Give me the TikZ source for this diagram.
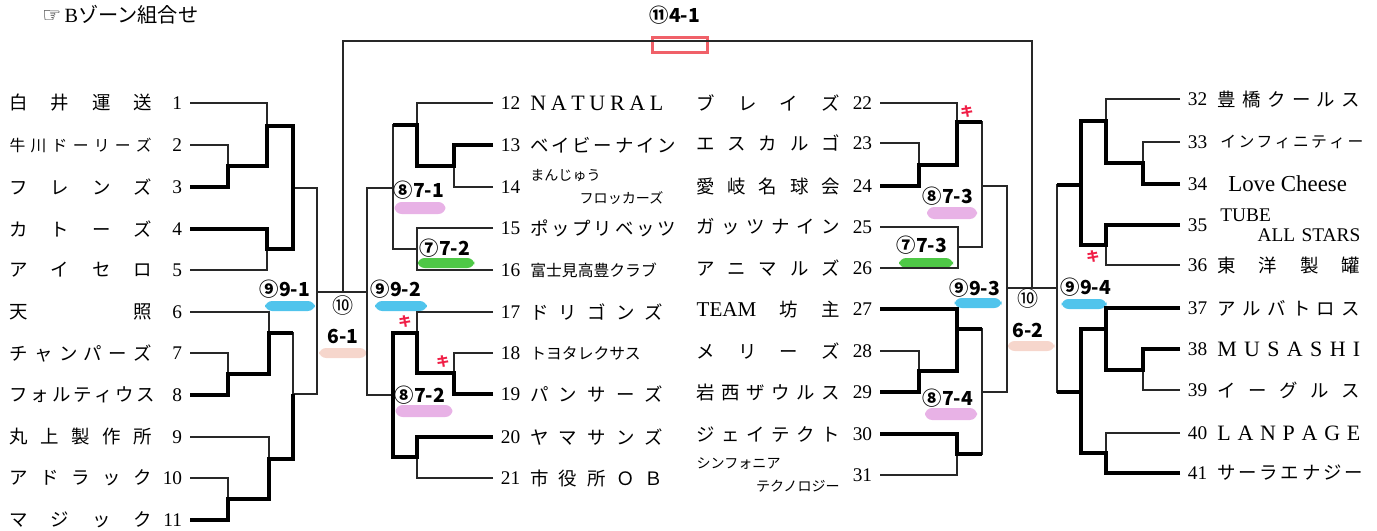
\documentclass[tikz,border=0pt]{standalone}
\usepackage{fontspec}
\setmainfont{Liberation Serif}
\newfontfamily\jp{Noto Sans CJK JP}
\newfontfamily\sym{DejaVu Sans}
\usetikzlibrary{positioning}
\definecolor{hlblue}{RGB}{80,196,236}
\definecolor{hlpink}{RGB}{232,178,230}
\definecolor{hlgreen}{RGB}{78,200,70}
\definecolor{hlsalmon}{RGB}{246,214,204}
\definecolor{kired}{RGB}{240,30,70}
\definecolor{boxred}{RGB}{240,96,104}
\definecolor{ink}{RGB}{40,40,40}
\newcommand\spread[2][2.84cm]{\makebox[#1][s]{#2}}

\begin{document}
\begin{tikzpicture}[x=0.02cm,y=-0.02cm,
    lose/.style={draw=ink,line width=0.7pt},
    win/.style={draw=black,line width=1.9pt},
    num/.style={inner ysep=0pt,inner xsep=4.3pt,font=\fontsize{11}{13}\selectfont},
    team/.style={inner sep=0pt,font=\jp\fontsize{10.5}{13}\selectfont},
    tsmall/.style={team,font=\jp\fontsize{9}{12}\selectfont},
    tmini/.style={team,align=left,font=\jp\fontsize{8}{13.5}\selectfont},
    latin/.style={team,font=\rmfamily\fontsize{12.5}{14}\selectfont},
    score/.style={inner sep=0pt,font=\jp\bfseries\fontsize{11}{13}\selectfont},
    circ/.style={inner sep=0pt,font=\jp\fontsize{12}{14}\selectfont},
    hl/.style={inner sep=0pt,minimum height=0.2cm,rounded corners=4pt},
    ki/.style={inner sep=0pt,text=kired,font=\jp\bfseries\fontsize{7.5}{9}\selectfont}]

    \useasboundingbox (0,0) rectangle (1377,531);

    \node[anchor=west,inner sep=0pt,font=\fontsize{11.5}{13}\selectfont] (title) at (42,15) {{\sym\fontsize{12}{13}\selectfont ☞}\,B{\jp ゾーン組合せ}};

    \node[hl,fill=hlblue,minimum width=1cm] (h91) at (290,306) {};
    \node[hl,fill=hlblue,minimum width=1.04cm] (h92) at (401,306) {};
    \node[hl,fill=hlsalmon,minimum width=0.96cm] (h61) at (343,353) {};
    \node[hl,fill=hlpink,minimum width=1.02cm,minimum height=0.24cm] (h71) at (420,208) {};
    \node[hl,fill=hlgreen,minimum width=1.14cm] (h72a) at (446,263) {};
    \node[hl,fill=hlpink,minimum width=1.14cm,minimum height=0.24cm] (h72b) at (424,411) {};
    \node[hl,fill=hlpink,minimum width=1cm,minimum height=0.24cm] (h73a) at (952,213) {};
    \node[hl,fill=hlgreen,minimum width=1.08cm] (h73b) at (926,263) {};
    \node[hl,fill=hlblue,minimum width=0.94cm] (h93) at (978,303) {};
    \node[hl,fill=hlpink,minimum width=1.04cm,minimum height=0.24cm] (h74) at (951,414) {};
    \node[hl,fill=hlsalmon,minimum width=0.94cm] (h62) at (1031,346) {};
    \node[hl,fill=hlblue,minimum width=0.9cm] (h94) at (1084,304) {};
    \node[draw=boxred,line width=1.6pt,minimum width=1.1cm,minimum height=0.3cm,inner sep=0pt] (b41) at (680,45) {};

    \node[num,anchor=east] (n1) at (190,103) {1};
    \node[team,left=0.76cm of n1.east] (w1) {\spread{白 井 運 送}};
    \node[num,anchor=east] (n2) at (190,145) {2};
    \node[tsmall,left=0.76cm of n2.east] (w2) {\spread{牛 川 ド ー リ ー ズ}};
    \node[num,anchor=east] (n3) at (190,187) {3};
    \node[team,left=0.76cm of n3.east] (w3) {\spread{フ レ ン ズ}};
    \node[num,anchor=east] (n4) at (190,229) {4};
    \node[team,left=0.76cm of n4.east] (w4) {\spread{カ ト ー ズ}};
    \node[num,anchor=east] (n5) at (190,270) {5};
    \node[team,left=0.76cm of n5.east] (w5) {\spread{ア イ セ ロ}};
    \node[num,anchor=east] (n6) at (190,312) {6};
    \node[team,left=0.76cm of n6.east] (w6) {\spread{天 照}};
    \node[num,anchor=east] (n7) at (190,353) {7};
    \node[team,left=0.76cm of n7.east] (w7) {\spread{チ ャ ン パ ー ズ}};
    \node[num,anchor=east] (n8) at (190,395) {8};
    \node[team,left=0.76cm of n8.east] (w8) {\spread{フ ォ ル テ ィ ウ ス}};
    \node[num,anchor=east] (n9) at (190,437) {9};
    \node[team,left=0.76cm of n9.east] (w9) {\spread{丸 上 製 作 所}};
    \node[num,anchor=east] (n10) at (190,478) {10};
    \node[team,left=0.76cm of n10.east] (w10) {\spread{ア ド ラ ッ ク}};
    \node[num,anchor=east] (n11) at (190,520) {11};
    \node[team,left=0.76cm of n11.east] (w11) {\spread{マ ジ ッ ク}};

    \node[num,anchor=west] (n12) at (493,103) {12};
    \node[latin,right=0.74cm of n12.west] (w12) {\spread[2.66cm]{N A T U R A L}};
    \node[num,anchor=west] (n13) at (493,145) {13};
    \node[team,right=0.74cm of n13.west] (w13) {\spread[2.66cm]{ベ イ ビ ー ナ イ ン}};
    \node[num,anchor=west] (n14) at (493,187) {14};
    \node[tmini,text width=2.66cm,right=0.74cm of n14.west] (w14) {まんじゅう\\\hspace*{\fill}フロッカーズ};
    \node[num,anchor=west] (n15) at (493,228) {15};
    \node[team,right=0.74cm of n15.west] (w15) {\spread[2.66cm]{ポ ッ プ リ ベ ッ ツ}};
    \node[num,anchor=west] (n16) at (493,270) {16};
    \node[tsmall,right=0.74cm of n16.west] (w16) {富士見高豊クラブ};
    \node[num,anchor=west] (n17) at (493,312) {17};
    \node[team,right=0.74cm of n17.west] (w17) {\spread[2.66cm]{ド リ ゴ ン ズ}};
    \node[num,anchor=west] (n18) at (493,353) {18};
    \node[tsmall,right=0.74cm of n18.west] (w18) {トヨタレクサス};
    \node[num,anchor=west] (n19) at (493,394) {19};
    \node[team,right=0.74cm of n19.west] (w19) {\spread[2.66cm]{パ ン サ ー ズ}};
    \node[num,anchor=west] (n20) at (493,437) {20};
    \node[team,right=0.74cm of n20.west] (w20) {\spread[2.66cm]{ヤ マ サ ン ズ}};
    \node[num,anchor=west] (n21) at (493,478) {21};
    \node[team,right=0.74cm of n21.west] (w21) {\spread[2.66cm]{市 役 所 Ｏ Ｂ}};

    \node[num,anchor=east] (n22) at (880,103) {22};
    \node[team,left=0.8cm of n22.east] (w22) {\spread[2.86cm]{ブ レ イ ズ}};
    \node[num,anchor=east] (n23) at (880,143) {23};
    \node[team,left=0.8cm of n23.east] (w23) {\spread[2.86cm]{エ ス カ ル ゴ}};
    \node[num,anchor=east] (n24) at (880,186) {24};
    \node[team,left=0.8cm of n24.east] (w24) {\spread[2.86cm]{愛 岐 名 球 会}};
    \node[num,anchor=east] (n25) at (880,227) {25};
    \node[team,left=0.8cm of n25.east] (w25) {\spread[2.86cm]{ガ ッ ツ ナ イ ン}};
    \node[num,anchor=east] (n26) at (880,268) {26};
    \node[team,left=0.8cm of n26.east] (w26) {\spread[2.86cm]{ア ニ マ ル ズ}};
    \node[num,anchor=east] (n27) at (880,309) {27};
    \node[team,left=0.8cm of n27.east] (w27) {\spread[2.86cm]{{\rmfamily\fontsize{12}{13}\selectfont TEAM} 坊 主}};
    \node[num,anchor=east] (n28) at (880,351) {28};
    \node[team,left=0.8cm of n28.east] (w28) {\spread[2.86cm]{メ リ ー ズ}};
    \node[num,anchor=east] (n29) at (880,392) {29};
    \node[team,left=0.8cm of n29.east] (w29) {\spread[2.86cm]{岩 西 ザ ウ ル ス}};
    \node[num,anchor=east] (n30) at (880,434) {30};
    \node[team,left=0.8cm of n30.east] (w30) {\spread[2.86cm]{ジ ェ イ テ ク ト}};
    \node[num,anchor=east] (n31) at (880,475) {31};
    \node[tmini,text width=2.86cm,left=0.8cm of n31.east] (w31) {シンフォニア\\\hspace*{\fill}テクノロジー};

    \node[num,anchor=west] (n32) at (1180,99) {32};
    \node[team,right=0.74cm of n32.west] (w32) {\spread[2.86cm]{豊 橋 ク ー ル ス}};
    \node[num,anchor=west] (n33) at (1180,142) {33};
    \node[tsmall,right=0.8cm of n33.west] (w33) {\spread[2.66cm]{イ ン フ ィ ニ テ ィ ー}};
    \node[num,anchor=west] (n34) at (1180,184) {34};
    \node[team,font=\rmfamily\fontsize{13}{15}\selectfont,right=0.96cm of n34.west] (w34) {Love Cheese};
    \node[num,anchor=west] (n35) at (1180,225) {35};
    \node[team,align=left,text width=2.8cm,font=\rmfamily\fontsize{11}{11.5}\selectfont,right=0.8cm of n35.west] (w35) {TUBE\\\hspace*{\fill}ALL STARS};
    \node[num,anchor=west] (n36) at (1180,265) {36};
    \node[team,right=0.74cm of n36.west] (w36) {\spread[2.86cm]{東 洋 製 罐}};
    \node[num,anchor=west] (n37) at (1180,308) {37};
    \node[team,right=0.74cm of n37.west] (w37) {\spread[2.86cm]{ア ル バ ト ロ ス}};
    \node[num,anchor=west] (n38) at (1180,349) {38};
    \node[latin,right=0.74cm of n38.west] (w38) {\spread[2.86cm]{M U S A S H I}};
    \node[num,anchor=west] (n39) at (1180,390) {39};
    \node[team,right=0.74cm of n39.west] (w39) {\spread[2.86cm]{イ ー グ ル ス}};
    \node[num,anchor=west] (n40) at (1180,433) {40};
    \node[latin,right=0.74cm of n40.west] (w40) {\spread[2.86cm]{L A N P A G E}};
    \node[num,anchor=west] (n41) at (1180,473) {41};
    \node[team,right=0.74cm of n41.west] (w41) {\spread[2.86cm]{サ ー ラ エ ナ ジ ー}};

    \coordinate (g23) at (228,166);
    \coordinate (g13) at (267,126);
    \coordinate (g45) at (267,249);
    \coordinate (g15) at (293,188);
    \coordinate (g78) at (228,374);
    \coordinate (g68) at (269,333);
    \coordinate (g1011) at (228,499);
    \coordinate (g911) at (269,459);
    \coordinate (g611) at (293,394);
    \coordinate (m91) at (317,292);
    \coordinate (m61) at (343,292);
    \coordinate (g1314) at (454,166);
    \coordinate (g1214) at (417,125);
    \coordinate (m72a) at (417,249);
    \coordinate (m71) at (393,188);
    \coordinate (g1819) at (454,373);
    \coordinate (g1719) at (417,333);
    \coordinate (g2021) at (417,457);
    \coordinate (m72b) at (393,395);
    \coordinate (m92) at (367,292);
    \coordinate (m41) at (680,41);
    \coordinate (g2324) at (919,165);
    \coordinate (g2224) at (957,122);
    \coordinate (m73b) at (958,247);
    \coordinate (m73a) at (982,186);
    \coordinate (g2829) at (919,371);
    \coordinate (g2729) at (957,329);
    \coordinate (g3031) at (957,454);
    \coordinate (m74) at (982,392);
    \coordinate (m93) at (1007,288);
    \coordinate (m62) at (1032,288);
    \coordinate (g3334) at (1143,163);
    \coordinate (g3234) at (1106,121);
    \coordinate (g3536) at (1106,245);
    \coordinate (g3236) at (1081,185);
    \coordinate (g3839) at (1143,370);
    \coordinate (g3739) at (1106,329);
    \coordinate (g4041) at (1106,453);
    \coordinate (g3741) at (1081,392);
    \coordinate (m94) at (1057,288);

    \draw[lose] (n2) -| (g23) (n3) -| (g23) (n1) -| (g13) (g23) -| (g13)
                (n4) -| (g45) (n5) -| (g45) (g13) -| (g15) (g45) -| (g15)
                (n7) -| (g78) (n8) -| (g78) (n6) -| (g68) (g78) -| (g68)
                (n10) -| (g1011) (n11) -| (g1011) (n9) -| (g911) (g1011) -| (g911)
                (g68) -| (g611) (g911) -| (g611) (g15) -| (m91) (g611) -| (m91)
                (m91) -- (m61);
    \draw[lose] (n13) -| (g1314) (n14) -| (g1314) (n12) -| (g1214) (g1314) -| (g1214)
                (n15) -| (m72a) (n16) -| (m72a) (g1214) -| (m71) (m72a) -| (m71)
                (n18) -| (g1819) (n19) -| (g1819) (n17) -| (g1719) (g1819) -| (g1719)
                (n20) -| (g2021) (n21) -| (g2021) (g1719) -| (m72b) (g2021) -| (m72b)
                (m71) -| (m92) (m72b) -| (m92) (m92) -- (m61);
    \draw[lose] (m61) |- (m41) -| (m62);
    \draw[lose] (n23) -| (g2324) (n24) -| (g2324) (n22) -| (g2224) (g2324) -| (g2224)
                (n25) -| (m73b) (n26) -| (m73b) (g2224) -| (m73a) (m73b) -| (m73a)
                (n28) -| (g2829) (n29) -| (g2829) (n27) -| (g2729) (g2829) -| (g2729)
                (n30) -| (g3031) (n31) -| (g3031) (g2729) -| (m74) (g3031) -| (m74)
                (m73a) -| (m93) (m74) -| (m93) (m93) -- (m62);
    \draw[lose] (n33) -| (g3334) (n34) -| (g3334) (n32) -| (g3234) (g3334) -| (g3234)
                (n35) -| (g3536) (n36) -| (g3536) (g3234) -| (g3236) (g3536) -| (g3236)
                (n38) -| (g3839) (n39) -| (g3839) (n37) -| (g3739) (g3839) -| (g3739)
                (n40) -| (g4041) (n41) -| (g4041) (g3739) -| (g3741) (g4041) -| (g3741)
                (g3236) -| (m94) (g3741) -| (m94) (m94) -- (m62);

    \draw[win] (n3) -| (g23) -| (g13) -| (g15);
    \draw[win] (n4) -| (g45) -| (g15);
    \draw[win] (n8) -| (g78) -| (g68) -- (g68 -| g611);
    \draw[win] (n11) -| (g1011) -| (g911) -| (g611);
    \draw[win] (n13) -| (g1314) -| (g1214) -- (g1214 -| m71);
    \draw[win] (n19) -| (g1819) -| (g1719) -| (m72b);
    \draw[win] (n20) -| (g2021) -| (m72b);
    \draw[win] (n24) -| (g2324) -| (g2224) -- (g2224 -| m73a);
    \draw[win] (n27) -| (g2729) -- (g2729 -| m74);
    \draw[win] (n29) -| (g2829) -| (g2729);
    \draw[win] (n30) -| (g3031) -- (g3031 -| m74);
    \draw[win] (n34) -| (g3334) -| (g3234) -| (g3236) -- (g3236 -| m94);
    \draw[win] (n35) -| (g3536) -| (g3236);
    \draw[win] (n37) -| (g3739);
    \draw[win] (n38) -| (g3839) -| (g3739) -| (g3741) -- (g3741 -| m94);
    \draw[win] (n41) -| (g4041) -| (g3741);

    \node[score] (s41) at (675,15) {⑪4-1};
    \node[score] (s91) at (285,289) {⑨9-1};
    \node[score] (s92) at (396,289) {⑨9-2};
    \node[circ] (s10a) at (343,305) {⑩};
    \node[score] (s61) at (343,336) {6-1};
    \node[score] (s71) at (419,190) {⑧7-1};
    \node[score] (s72a) at (445,248) {⑦7-2};
    \node[score] (s72b) at (420,395) {⑧7-2};
    \node[score] (s73a) at (948,196) {⑧7-3};
    \node[score] (s73b) at (922,245) {⑦7-3};
    \node[score] (s93) at (975,288) {⑨9-3};
    \node[circ] (s10b) at (1028,298) {⑩};
    \node[score] (s62) at (1028,330) {6-2};
    \node[score] (s74) at (948,398) {⑧7-4};
    \node[score] (s94) at (1086,287) {⑨9-4};

    \node[ki] (k1) at (405,322) {キ};
    \node[ki] (k2) at (443,362) {キ};
    \node[ki] (k3) at (967,112) {キ};
    \node[ki] (k4) at (1093,257) {キ};

\end{tikzpicture}
\end{document}
